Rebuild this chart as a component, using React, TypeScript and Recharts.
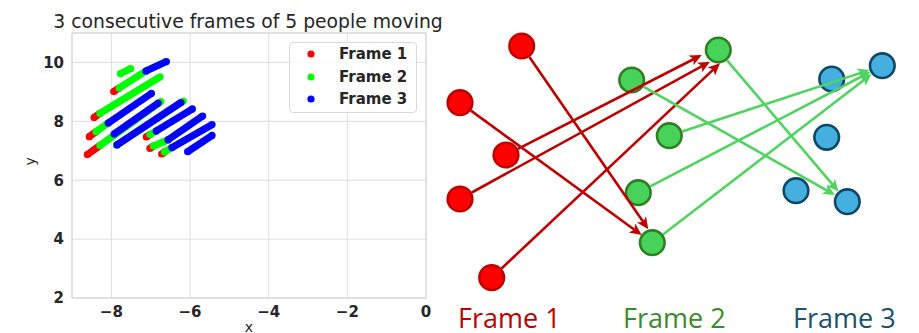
import { ScatterChart, Scatter, XAxis, YAxis, CartesianGrid, ReferenceArea, Legend } from 'recharts'

type Pt = [number, number]

// left panel: tracks, one array per frame, each stroke is [start, end]
const xTicks = [-8, -6, -4, -2, 0]
const yTicks = [2, 4, 6, 8, 10]

const frame1Strokes: Pt[][] = [
  [[-8.61, 6.87], [-8.29, 7.18]],
  [[-8.56, 7.48], [-8.39, 7.65]],
  [[-8.44, 8.13], [-8.29, 8.27]],
  [[-7.94, 9.01], [-7.8, 9.13]],
  [[-7.11, 7.47], [-7.02, 7.55]],
  [[-7.02, 7.08], [-6.93, 7.16]],
  [[-6.72, 6.89], [-6.65, 6.96]],
]

const frame2Strokes: Pt[][] = [
  [[-8.29, 7.18], [-6.74, 8.67]],
  [[-8.39, 7.65], [-8.08, 7.94]],
  [[-8.29, 8.27], [-6.76, 9.51]],
  [[-7.8, 9.13], [-7.12, 9.71]],
  [[-7.77, 9.62], [-7.51, 9.79]],
  [[-7.86, 7.2], [-6.17, 8.69]],
  [[-7.02, 7.55], [-6.86, 7.67]],
  [[-6.93, 7.16], [-6.56, 7.37]],
  [[-6.65, 6.96], [-6.46, 7.11]],
]

const frame3Strokes: Pt[][] = [
  [[-7.93, 7.57], [-6.81, 8.62]],
  [[-8.08, 7.94], [-6.98, 8.95]],
  [[-7.12, 9.71], [-6.6, 10.03]],
  [[-7.86, 7.2], [-6.23, 8.64]],
  [[-6.86, 7.67], [-5.94, 8.42]],
  [[-6.56, 7.37], [-5.68, 8.18]],
  [[-6.46, 7.11], [-5.44, 7.89]],
  [[-6.06, 6.97], [-5.44, 7.52]],
]

const legendLabels = ['Frame 1', 'Frame 2', 'Frame 3']
const trackColors = ['#ff0000', '#00ff00', '#0000ff']

// right panel: diagram nodes (page px) and arrow tips
const frame1Nodes: Pt[] = [[521.7, 46], [460, 102.7], [506, 155], [460, 199], [491.7, 277.7]]
const frame2Nodes: Pt[] = [[718.3, 50], [631.7, 80], [669.3, 135.7], [638.3, 192.7], [652.3, 242.7]]
const frame3Nodes: Pt[] = [[882.3, 65.7], [831.7, 79], [826.7, 137.3], [796, 190.7], [847.3, 201.7]]

const redArrows: { from: number; tip: Pt }[] = [
  { from: 0, tip: [648.3, 229.3] },
  { from: 1, tip: [641.7, 235] },
  { from: 2, tip: [701.7, 55] },
  { from: 3, tip: [710, 61.7] },
  { from: 4, tip: [720, 63.3] },
]
const greenArrows: { from: number; tip: Pt }[] = [
  { from: 1, tip: [835, 195] },
  { from: 0, tip: [838.5, 191.5] },
  { from: 2, tip: [869.5, 70] },
  { from: 3, tip: [870.3, 72] },
  { from: 4, tip: [871.6, 74] },
]

const frameLabels = [
  { text: 'Frame 1', x: 458, color: '#c00000' },
  { text: 'Frame 2', x: 623, color: '#3b8a2c' },
  { text: 'Frame 3', x: 793, color: '#1b5171' },
]

const TXT = '#262626'
const fmt = (v: number) => String(v).replace('-', '\u2212')

const dot = (c: string) => (p: any) => <circle cx={p.cx} cy={p.cy} r={3.6} fill={c} />

function strokeSeries(strokes: Pt[][], color: string, key: string) {
  return strokes.map((s, i) => (
    <Scatter
      key={key + i}
      data={s.map(([x, y]) => ({ x, y }))}
      fill={color}
      line={{ stroke: color, strokeWidth: 7.2 }}
      shape={dot(color)}
      legendType="none"
      isAnimationActive={false}
    />
  ))
}

function LegendBox() {
  return (
    <div
      style={{
        width: 128, height: 71, boxSizing: 'border-box', border: '1px solid #d9d9d9', borderRadius: 4,
        background: 'rgba(255,255,255,0.8)', fontFamily: 'DejaVu Sans', fontWeight: 'bold', fontSize: 15, color: TXT,
      }}
    >
      {legendLabels.map((l, i) => (
        <div key={l} style={{ position: 'absolute', left: 0, top: 1 + i * 22.5, height: 22, width: 128 }}>
          <svg width={20} height={22} style={{ position: 'absolute', left: 12, top: 0 }}>
            <circle cx={10} cy={11} r={3.6} fill={trackColors[i]} />
          </svg>
          <span style={{ position: 'absolute', left: 50, top: 2, lineHeight: '18px', whiteSpace: 'nowrap' }}>{l}</span>
        </div>
      ))}
    </div>
  )
}

function TrackChart() {
  return (
    <ScatterChart width={450} height={333} margin={{ top: 33, right: 24, bottom: 5, left: 22 }}>
      <CartesianGrid stroke="#dedede" />
      <ReferenceArea x1={-9} x2={0} y1={2} y2={11} fill="none" stroke="#d4d4d4" ifOverflow="visible" />
      <XAxis
        type="number" dataKey="x" domain={[-9, 0]} ticks={xTicks} allowDataOverflow
        axisLine={false} tickLine={false} tickSize={0} tickMargin={8} height={30}
        tick={{ fill: TXT, fontSize: 15, fontWeight: 'bold' }} tickFormatter={fmt}
        label={{ value: 'x', position: 'bottom', offset: -6, fill: TXT, fontSize: 14 }}
      />
      <YAxis
        type="number" dataKey="y" domain={[2, 11]} ticks={yTicks} allowDataOverflow
        axisLine={false} tickLine={false} tickSize={0} tickMargin={8} width={50}
        tick={{ fill: TXT, fontSize: 15, fontWeight: 'bold' }}
        label={{ value: 'y', angle: -90, position: 'insideLeft', offset: 8, fill: TXT, fontSize: 14 }}
      />
      {strokeSeries(frame1Strokes, trackColors[0], 'r')}
      {strokeSeries(frame2Strokes, trackColors[1], 'g')}
      {strokeSeries(frame3Strokes, trackColors[2], 'b')}
      <Legend
        layout="vertical" align="center" verticalAlign="middle"
        wrapperStyle={{ left: 289, top: 42, width: 128, height: 71 }}
        content={() => <LegendBox />}
      />
    </ScatterChart>
  )
}

const nodeShape = (fill: string, stroke: string) => (p: any) => (
  <circle cx={p.cx} cy={p.cy} r={12.3} fill={fill} stroke={stroke} strokeWidth={2.6} />
)

const arrowShape = (color: string) => (p: any) =>
  p.payload && p.payload.head ? (
    <path d="M6,0 L-6,-5.5 L-3,0 L-6,5.5 Z" fill={color} transform={`translate(${p.cx},${p.cy}) rotate(${p.payload.angle})`} />
  ) : (
    <g />
  )

function arrowData(from: Pt, tip: Pt) {
  const dx = tip[0] - from[0]
  const dy = tip[1] - from[1]
  const len = Math.hypot(dx, dy)
  const ux = dx / len
  const uy = dy / len
  const angle = (Math.atan2(dy, dx) * 180) / Math.PI
  return [
    { x: from[0] + ux * 13.5, y: from[1] + uy * 13.5, head: false, angle },
    { x: tip[0] - ux * 6, y: tip[1] - uy * 6, head: true, angle },
  ]
}

function arrowSeries(arrows: { from: number; tip: Pt }[], nodes: Pt[], color: string, key: string) {
  return arrows.map((a, i) => (
    <Scatter
      key={key + i}
      data={arrowData(nodes[a.from], a.tip)}
      fill={color}
      line={{ stroke: color, strokeWidth: 2.6 }}
      shape={arrowShape(color)}
      isAnimationActive={false}
    />
  ))
}

function DiagramChart() {
  const toObj = (n: Pt[]) => n.map(([x, y]) => ({ x, y }))
  return (
    <ScatterChart width={489} height={333} margin={{ top: 0, right: 0, bottom: 0, left: 0 }}>
      <XAxis type="number" dataKey="x" domain={[430, 919]} hide />
      <YAxis type="number" dataKey="y" domain={[0, 333]} reversed hide />
      <Scatter data={toObj(frame1Nodes)} shape={nodeShape('#ff0000', '#c00000')} isAnimationActive={false} />
      <Scatter data={toObj(frame2Nodes)} shape={nodeShape('#47d35a', '#2f7f22')} isAnimationActive={false} />
      <Scatter data={toObj(frame3Nodes)} shape={nodeShape('#45b0e0', '#0e4866')} isAnimationActive={false} />
      {arrowSeries(redArrows, frame1Nodes, '#c00000', 'ra')}
      {arrowSeries(greenArrows, frame2Nodes, '#4fd45f', 'ga')}
    </ScatterChart>
  )
}

export default function App() {
  return (
    <div style={{ position: 'absolute', left: 0, top: 0, width: 919, height: 333, background: '#fff', fontFamily: 'DejaVu Sans' }}>
      <div style={{ position: 'absolute', left: 0, top: 0 }}>
        <TrackChart />
      </div>
      <div style={{ position: 'absolute', left: 430, top: 0 }}>
        <DiagramChart />
      </div>
      <svg width={919} height={333} style={{ position: 'absolute', left: 0, top: 0, pointerEvents: 'none' }}>
        <text x={248} y={28} textAnchor="middle" fontFamily="DejaVu Sans" fontSize={18.8} fill={TXT}>
          3 consecutive frames of 5 people moving
        </text>
        {frameLabels.map((f) => (
          <text key={f.text} x={f.x} y={328} fontFamily="Open Sans" fontSize={27} fill={f.color}>
            {f.text}
          </text>
        ))}
      </svg>
    </div>
  )
}
